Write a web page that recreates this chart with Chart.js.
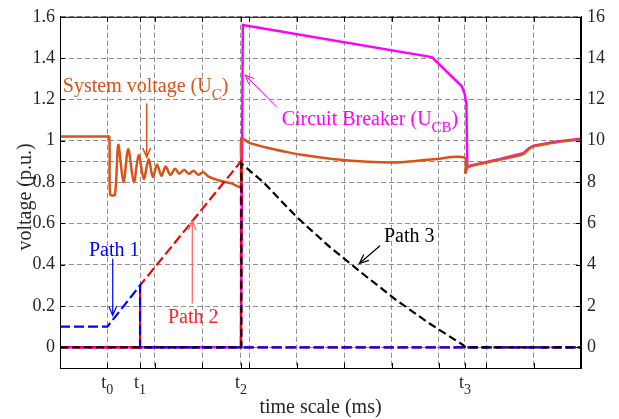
<!DOCTYPE html>
<html>
<head>
<meta charset="utf-8">
<script src="https://cdn.jsdelivr.net/npm/chart.js@4.4.0/dist/chart.umd.min.js"></script>
<style>
  body { margin: 0; background: #fff; }
</style>
</head>
<body>
<canvas id="chart" width="619" height="419"></canvas>
<script>
// system voltage U_C (p.u., left axis)
const sysX = [0, 0.5, 0.97, 1.04, 1.06, 1.16, 1.23, 1.34, 1.44, 1.56, 1.66, 1.77, 1.87, 1.96, 2.05, 2.14, 2.23, 2.33,
  2.43, 2.52, 2.62, 2.72, 2.82, 2.92, 3.02, 3.15, 3.4, 3.6, 3.82, 3.83, 4.0, 4.4, 4.8, 5.1, 5.8, 6.5,
  7.2, 7.88, 8.54, 8.56, 8.6, 8.66, 9.29, 9.78, 9.9, 10.0, 10.49, 11];
const sysY = [1.02, 1.02, 1.02, 1.02, 0.74, 0.74, 0.98, 0.80, 0.96, 0.80, 0.93, 0.815, 0.91, 0.825, 0.885, 0.83, 0.875, 0.835,
  0.865, 0.84, 0.86, 0.84, 0.855, 0.835, 0.848, 0.825, 0.805, 0.795, 0.78, 1.01, 0.99, 0.965, 0.945, 0.932, 0.91, 0.898,
  0.896, 0.91, 0.918, 0.845, 0.87, 0.877, 0.909, 0.936, 0.96, 0.973, 0.993, 1.006];

// circuit breaker U_CB (right axis)
const cbX = [0, 3.82, 3.86, 7.85, 8.48, 8.54, 8.58, 8.6, 8.66, 9.29, 9.78, 9.9, 10.0, 10.49, 11];
const cbY = [0, 0, 15.6, 14.05, 12.65, 12.3, 11.8, 8.7, 8.8, 9.12, 9.4, 9.63, 9.76, 9.97, 10.1];

// current paths (left axis)
const path1X = [0, 1.0, 1.69, 1.69, 11];
const path1Y = [0.1, 0.1, 0.3, 0, 0];
const path2X = [0, 1.69, 1.69, 3.82, 3.82, 11];
const path2Y = [0, 0, 0.3, 0.9, 0, 0];
const path3X = [0, 3.83, 3.83, 4.29, 5.0, 5.7, 6.4, 7.11, 7.81, 8.52, 8.56, 11];
const path3Y = [0, 0, 0.89, 0.8, 0.63, 0.485, 0.355, 0.227, 0.114, 0.01, 0, 0];

// ticks
const tTicks = [1.0, 1.69, 3.82, 8.55];
const tSubs = ["0", "1", "2", "3"];
const leftTicks = [0, 0.2, 0.4, 0.6, 0.8, 1, 1.2, 1.4, 1.6];
const leftLabels = ["0", "0.2", "0.4", "0.6", "0.8", "1", "1.2", "1.4", "1.6"];
const rightTicks = [0, 2, 4, 6, 8, 10, 12, 14, 16];
const rightLabels = ["0", "2", "4", "6", "8", "10", "12", "14", "16"];

const FONT = "'Liberation Serif', 'DejaVu Serif', serif";

// annotations: text anchor and arrow in data units
const notes = [
  { main: "System voltage (U", sub: "C", tail: ")", color: "#D95319", x: 0.06, y: 1.238,
    from: [1.83, 1.18], to: [1.83, 0.92], lw: 1.5 },
  { main: "Circuit Breaker (U", sub: "CB", tail: ")", color: "#FF00FF", x: 4.68, y: 1.075,
    from: [4.575, 1.163], to: [3.906, 1.319], lw: 1 },
  { main: "Path 1", sub: "", tail: "", color: "#0000FF", x: 0.61, y: 0.443,
    from: [1.113, 0.429], to: [1.113, 0.154], lw: 1.2 },
  { main: "Path 2", sub: "", tail: "", color: "#FF2020", x: 2.28, y: 0.116,
    from: [2.793, 0.212], to: [2.793, 0.612], lw: 1.2, arrowColor: "#FF6060" },
  { main: "Path 3", sub: "", tail: "", color: "#000000", x: 6.84, y: 0.512,
    from: [6.757, 0.4916], to: [6.32, 0.406], lw: 1.2 }
];

const pts = (xs, ys) => xs.map((x, i) => ({ x: x, y: ys[i] }));

function subText(ctx, x, y, main, sub, tail, color, size, align) {
  const subSize = Math.round(size * 0.75);
  ctx.font = size + "px " + FONT;
  const w1 = ctx.measureText(main).width;
  const w3 = ctx.measureText(tail).width;
  ctx.font = subSize + "px " + FONT;
  const w2 = ctx.measureText(sub).width;
  let x0 = align === "center" ? x - (w1 + w2 + w3) / 2 : x;
  ctx.fillStyle = color;
  ctx.textAlign = "left";
  ctx.textBaseline = "alphabetic";
  ctx.font = size + "px " + FONT;
  ctx.fillText(main, x0, y);
  ctx.font = subSize + "px " + FONT;
  ctx.fillText(sub, x0 + w1, y + size * 0.35);
  ctx.font = size + "px " + FONT;
  ctx.fillText(tail, x0 + w1 + w2, y);
}

function arrow(ctx, x1, y1, x2, y2, color, w) {
  const ang = Math.atan2(y2 - y1, x2 - x1);
  const hl = 10, ha = 0.4;
  ctx.save();
  ctx.strokeStyle = color;
  ctx.lineWidth = w;
  ctx.setLineDash([]);
  ctx.beginPath();
  ctx.moveTo(x1, y1);
  ctx.lineTo(x2, y2);
  ctx.moveTo(x2 - hl * Math.cos(ang - ha), y2 - hl * Math.sin(ang - ha));
  ctx.lineTo(x2, y2);
  ctx.lineTo(x2 - hl * Math.cos(ang + ha), y2 - hl * Math.sin(ang + ha));
  ctx.stroke();
  ctx.restore();
}

const decor = {
  id: "decor",
  afterDraw(chart) {
    const ctx = chart.ctx;
    const a = chart.chartArea;
    const xs = chart.scales.x, ys = chart.scales.y, y1 = chart.scales.y1;
    ctx.save();
    // box and inward ticks
    ctx.strokeStyle = "#000";
    ctx.lineWidth = 1;
    ctx.setLineDash([]);
    ctx.strokeRect(a.left + 0.5, a.top + 0.5, a.right - a.left - 1, a.bottom - a.top);
    ctx.beginPath();
    leftTicks.concat([0.9]).forEach(v => {
      const p = Math.round(ys.getPixelForValue(v)) + 0.5;
      ctx.moveTo(a.left, p); ctx.lineTo(a.left + 5, p);
    });
    rightTicks.concat([9]).forEach(v => {
      const p = Math.round(y1.getPixelForValue(v)) + 0.5;
      ctx.moveTo(a.right, p); ctx.lineTo(a.right - 5, p);
    });
    xs.ticks.forEach(t => {
      const p = Math.round(xs.getPixelForValue(t.value)) + 0.5;
      ctx.moveTo(p, a.bottom); ctx.lineTo(p, a.bottom - 5);
      ctx.moveTo(p, a.top); ctx.lineTo(p, a.top + 5);
    });
    ctx.stroke();

    // t labels
    tTicks.forEach((v, i) => {
      subText(ctx, xs.getPixelForValue(v), a.bottom + 20, "t", tSubs[i], "", "#262626", 18, "center");
    });

    // axis titles
    ctx.fillStyle = "#262626";
    ctx.font = "20px " + FONT;
    ctx.textAlign = "center";
    ctx.textBaseline = "alphabetic";
    ctx.fillText("time scale (ms)", (a.left + a.right) / 2, 413);
    ctx.save();
    ctx.translate(31, 197);
    ctx.rotate(-Math.PI / 2);
    ctx.fillText("voltage (p.u.)", 0, 0);
    ctx.restore();

    // annotations
    notes.forEach(n => {
      subText(ctx, xs.getPixelForValue(n.x), ys.getPixelForValue(n.y), n.main, n.sub, n.tail, n.color, 20, "left");
      arrow(ctx, xs.getPixelForValue(n.from[0]), ys.getPixelForValue(n.from[1]),
        xs.getPixelForValue(n.to[0]), ys.getPixelForValue(n.to[1]), n.arrowColor || n.color, n.lw);
    });
    ctx.restore();
  }
};

const gridX = [0, 1, 2, 3, 4, 5, 6, 7, 8, 9, 10, 11].concat(tTicks.filter(v => v !== 1)).sort((p, q) => p - q);

new Chart(document.getElementById("chart"), {
  type: "line",
  data: {
    datasets: [
      { label: "Path 3", data: pts(path3X, path3Y), yAxisID: "y", borderColor: "#000000",
        borderWidth: 2.2, borderDash: [8, 4], order: 0 },
      { label: "Path 1", data: pts(path1X, path1Y), yAxisID: "y", borderColor: "#0000FF",
        borderWidth: 2.2, borderDash: [10, 4], order: 1 },
      { label: "Path 2", data: pts(path2X, path2Y), yAxisID: "y", borderColor: "#FF0000",
        borderWidth: 2.2, borderDash: [10, 4], order: 2 },
      { label: "System voltage", data: pts(sysX, sysY), yAxisID: "y", borderColor: "#D95319",
        borderWidth: 2.5, tension: 0.3, order: 3 },
      { label: "Circuit Breaker", data: pts(cbX, cbY), yAxisID: "y1", borderColor: "#FF00FF",
        borderWidth: 2.5, order: 4 }
    ]
  },
  options: {
    responsive: false,
    animation: false,
    events: [],
    layout: { padding: { top: 15, left: 0, right: 0, bottom: 0 } },
    elements: { point: { radius: 0 }, line: { fill: false } },
    plugins: { legend: { display: false }, tooltip: { enabled: false } },
    scales: {
      x: {
        type: "linear", min: 0, max: 11,
        afterBuildTicks: s => { s.ticks = gridX.map(v => ({ value: v })); },
        afterFit: s => { s.height = 51; },
        ticks: { callback: () => "", autoSkip: false, maxRotation: 0 },
        grid: { color: "#909090", lineWidth: 1, drawTicks: false },
        border: { display: true, color: "#000", dash: [5, 3] }
      },
      y: {
        type: "linear", position: "left", min: -0.1, max: 1.6,
        afterBuildTicks: s => { s.ticks = leftTicks.concat([0.9]).map(v => ({ value: v })); },
        afterFit: s => { s.width = 60; },
        ticks: {
          callback: v => { const i = leftTicks.indexOf(v); return i >= 0 ? leftLabels[i] : ""; },
          font: { family: FONT, size: 18 }, color: "#262626", padding: 5
        },
        grid: { color: "#909090", lineWidth: 1, drawTicks: false },
        border: { display: true, color: "#000", dash: [5, 3] }
      },
      y1: {
        type: "linear", position: "right", min: -1, max: 16,
        afterBuildTicks: s => { s.ticks = rightTicks.map(v => ({ value: v })); },
        afterFit: s => { s.width = 38; },
        ticks: {
          callback: v => { const i = rightTicks.indexOf(v); return i >= 0 ? rightLabels[i] : ""; },
          font: { family: FONT, size: 18 }, color: "#262626", padding: 6
        },
        grid: { drawOnChartArea: false, drawTicks: false },
        border: { display: true, color: "#000" }
      }
    }
  },
  plugins: [decor]
});
</script>
</body>
</html>
